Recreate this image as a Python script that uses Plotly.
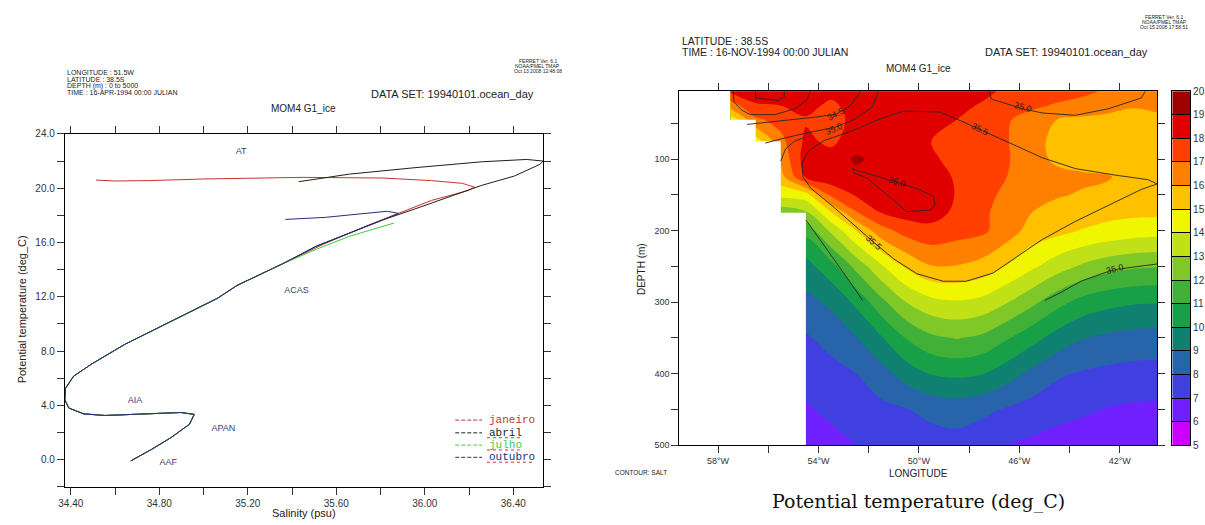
import plotly.graph_objects as go

W, H = 1205, 525

# ---------------- Left panel: T-S diagram data ----------------
common_S = [35.36, 35.152, 35.062, 34.943, 34.794, 34.645, 34.496, 34.413, 34.376, 34.373,
            34.391, 34.458, 34.555, 34.749, 34.898, 34.958, 34.936, 34.854, 34.764, 34.671]
common_T = [14.45, 12.84, 11.88, 10.9, 9.71, 8.5, 7.06, 6.15, 5.25, 4.41,
            3.8, 3.37, 3.25, 3.40, 3.47, 3.33, 2.6, 1.63, 0.74, -0.1]

jan_S = [34.514, 34.6, 34.75, 35.0, 35.45, 35.58, 35.81, 36.03, 36.17, 36.225, 36.196, 36.03, 35.88, 35.73, 35.54]
jan_T = [20.6, 20.53, 20.56, 20.68, 20.8, 20.8, 20.75, 20.56, 20.36, 20.07, 19.83, 19.1, 18.15, 17.18, 15.86]
abr_S = [35.43, 35.66, 35.96, 36.26, 36.46, 36.535, 36.52, 36.405, 36.255, 36.11, 35.96, 35.81, 35.66, 35.51]
abr_T = [20.48, 21.04, 21.52, 21.95, 22.12, 22.0, 21.76, 20.9, 20.2, 19.35, 18.5, 17.66, 16.7, 15.73]
jul_S = [35.86, 35.66, 35.51]
jul_T = [17.43, 16.46, 15.5]
out_S = [35.37, 35.55, 35.66, 35.83, 35.88, 35.81, 35.66, 35.51]
out_T = [17.7, 17.85, 18.03, 18.3, 18.15, 17.66, 16.7, 15.73]

series_names = ["janeiro", "abril", "julho", "outubro"]
series_colors = ["#c83232", "#1e1e1e", "#3ccc3c", "#2a2a7e"]

water_masses = ["AT", "ACAS", "AIA", "APAN", "AAF"]
wm_S = [35.17, 35.42, 34.69, 35.09, 34.84]
wm_T = [22.7, 12.45, 4.3, 2.3, -0.2]

# ---------------- Right panel: section data ----------------
lon = [-57.5 + i for i in range(18)]
dep = [5, 25, 45, 75, 100, 125, 150, 175, 200, 250, 300, 350, 400, 450, 500]
N = None
temp = [
    [18.2, 18.5, 18.5, 18.6, 18.3, 18.5, 18.6, 18.6, 18.6, 18.5, 18.3, 17.8, 17.6, 17.4, 17.2, 16.9, 16.6, 16.4],
    [16.5, 17.9, 18.0, 18.3, 17.8, 18.4, 18.5, 18.6, 18.5, 18.3, 17.9, 17.5, 17.2, 16.9, 16.7, 16.4, 16.1, 16.2],
    [14.3, 16.8, 17.4, 17.9, 17.6, 18.3, 18.5, 18.6, 18.3, 18.0, 17.6, 17.1, 16.6, 16.0, 15.8, 15.7, 15.6, 15.8],
    [N, 14.5, 16.7, 18.2, 17.8, 18.5, 18.6, 18.7, 18.0, 17.9, 17.5, 17.05, 16.5, 15.6, 15.4, 15.4, 15.4, 15.5],
    [N, N, 16.2, 18.5, 18.4, 19.15, 18.7, 18.8, 18.1, 17.8, 17.5, 17.1, 16.4, 15.8, 15.5, 15.4, 15.4, 15.45],
    [N, N, 15.6, 18.1, 18.6, 18.7, 18.8, 18.8, 18.4, 17.9, 17.4, 17.0, 16.5, 16.3, 16.2, 16.1, 15.6, 15.5],
    [N, N, 14.3, 14.6, 17.2, 18.1, 18.6, 18.7, 18.5, 17.95, 17.3, 16.8, 16.3, 16.1, 15.9, 15.7, 15.6, 15.5],
    [N, N, 12.3, 12.8, 14.9, 16.9, 18.0, 18.4, 18.4, 17.8, 17.2, 16.6, 16.0, 15.6, 15.5, 15.3, 15.2, 15.2],
    [N, N, N, 11.3, 13.2, 15.0, 16.6, 17.4, 17.7, 17.4, 17.2, 16.5, 15.6, 15.3, 14.95, 14.7, 14.5, 14.4],
    [N, N, N, 9.65, 10.6, 12.3, 13.85, 15.15, 15.95, 15.95, 15.65, 14.95, 14.2, 13.45, 12.85, 12.4, 12.15, 12.05],
    [N, N, N, 8.7, 9.2, 10.2, 11.7, 13.0, 13.7, 13.9, 13.7, 13.05, 12.25, 11.35, 10.65, 10.3, 10.1, 10.05],
    [N, N, N, 7.9, 8.3, 8.95, 9.9, 11.05, 11.8, 12.05, 11.8, 11.1, 10.35, 9.6, 9.05, 8.8, 8.65, 8.6],
    [N, N, N, 7.4, 7.7, 8.0, 8.6, 9.45, 10.05, 10.2, 10.05, 9.45, 8.75, 8.15, 7.9, 7.75, 7.65, 7.6],
    [N, N, N, 6.9, 7.2, 7.5, 7.75, 7.95, 8.3, 8.45, 8.25, 7.9, 7.6, 7.35, 7.15, 6.95, 6.85, 6.8],
    [N, N, N, 6.6, 6.7, 7.0, 7.2, 7.35, 7.5, 7.6, 7.3, 7.0, 6.8, 6.6, 6.5, 6.4, 6.3, 6.2],
]

band_colors = ["#cc00ff", "#7020ff", "#4040e0", "#2864aa", "#108070", "#18a048", "#40b038",
               "#80c828", "#c0e018", "#f0f500", "#ffc000", "#ff8000", "#ff4000", "#e00000", "#a00000"]
levels = list(range(5, 21))
band_mid = [v + 0.5 for v in levels[:-1]]

# salinity isolines (lon, depth)
s345_lon = [-56.84, -55.60, -54.28, -53.30, -52.77, -52.44, -52.35]
s345_dep = [51.5, 47.0, 41.9, 37.4, 26.4, 12.7, 5]
s350a_lon = [-56.12, -55.53, -54.41, -53.36, -52.57, -51.85, -51.61]
s350a_dep = [77.6, 72.1, 63.0, 55.6, 44.7, 27.3, 5]
s350b_lon = [-55.50, -55.31, -54.97, -54.54]
s350b_dep = [102.7, 85.8, 75.3, 69.3]
s355_lon = [-54.61, -54.65, -54.41, -53.76, -52.57, -51.52, -50.60, -49.16, -48.24, -47.58, -46.40, -45.08,
            -43.77, -42.19, -40.88, -40.50, -41.14, -42.45, -43.77, -45.08, -46.13, -47.05, -48.11, -49.03,
            -50.08, -51.00, -51.78, -52.57, -53.36, -54.28, -54.61]
s355_dep = [125.5, 105.0, 89.0, 73.9, 59.3, 43.3, 32.8, 34.2, 47.9, 58.4, 77.6, 98.1,
            113.2, 122.3, 128.7, 134.6, 142.4, 164.3, 187.1, 212.3, 237.4, 259.3, 270.7, 270.7,
            260.2, 239.6, 216.8, 192.6, 168.0, 141.5, 125.5]
s360_lon = [-52.64, -52.44, -51.65, -50.86, -50.08, -49.42, -49.35, -49.55, -50.47, -50.86, -51.52, -52.05, -52.57, -52.64]
s360_dep = [113.2, 116.4, 124.1, 132.3, 141.5, 151.5, 164.3, 171.2, 173.4, 162.0, 141.5, 126.9, 119.6, 113.2]
st1_lon = [-57.40, -57.36, -57.04, -56.71, -55.73, -54.94, -54.48, -54.31]
st1_dep = [5, 20.5, 31.9, 37.8, 37.8, 29.6, 18.2, 5]
st2_lon = [-56.52, -56.49, -55.60, -55.36, -55.36]
st2_dep = [5, 14.5, 18.2, 12.7, 5]
str_lon = [-47.19, -47.12, -45.87, -45.08, -43.77, -42.45, -41.14, -40.98]
str_dep = [5, 15.9, 29.6, 35.5, 38.7, 29.6, 14.5, 5]
sdl_lon = [-54.50, -53.89, -53.23, -52.70, -52.24]
sdl_dep = [184.9, 214.5, 246.5, 273.9, 297.6]
sdr_lon = [-44.98, -44.29, -43.51, -42.45, -42.06, -41.14, -40.50]
sdr_dep = [297.6, 285.3, 270.2, 257.0, 253.8, 249.2, 246.5]

sal_labels = ["34.5", "35.0", "35.5", "35.5", "36.0", "35.0", "35.0"]
sal_lab_lon = [-53.30, -53.39, -47.58, -51.78, -50.86, -45.87, -42.19]
sal_lab_dep = [37.5, 57.5, 58.4, 216.8, 132.3, 27.3, 253.3]
sal_lab_ang = [-28, -24, 25, 42, 18, 15, -14]

right_xrange = [-59.54, -40.5]
right_yrange = [500, 5]


def px(x):
    return x / W


def py(y):
    return 1 - y / H


fig = go.Figure()

# ---- left panel traces ----
uppers = [(jan_S, jan_T), (abr_S, abr_T), (jul_S, jul_T), (out_S, out_T)]
for (uS, uT), name, col in zip(uppers, series_names, series_colors):
    fig.add_trace(go.Scatter(x=uS + common_S, y=uT + common_T, mode="lines", name=name,
                             line=dict(color=col, width=1), xaxis="x", yaxis="y",
                             showlegend=False, hoverinfo="skip"))

fig.add_trace(go.Scatter(x=wm_S, y=wm_T, mode="text", text=water_masses, xaxis="x", yaxis="y",
                         textfont=dict(family="Liberation Sans", size=9, color="#3b3b7a"),
                         showlegend=False, hoverinfo="skip"))

# ---- right panel filled contours ----
ncol = len(band_colors)
cscale = []
for i, c in enumerate(band_colors):
    a = 0.0 if i == 0 else (i + 0.5) / 16
    b = 1.0 if i == ncol - 1 else (i + 1.5) / 16
    cscale.append([a, c])
    cscale.append([b, c])

fig.add_trace(go.Contour(
    x=lon, y=dep, z=temp, connectgaps=True,
    xaxis="x2", yaxis="y2", colorscale=cscale, zmin=5, zmax=20, zauto=False,
    contours=dict(start=levels[0], end=levels[-1], size=1, coloring="fill", showlines=False),
    line=dict(width=0), hoverinfo="skip", showscale=False,
))

# land mask: white polygon following the first valid grid column of each depth row
fv = [next(j for j, v in enumerate(r) if v is not None) for r in temp]
k0 = max(i for i in range(len(dep)) if fv[i] == 0)
mask_x, mask_y = [right_xrange[0], lon[fv[0]]], [dep[k0], dep[k0]]
for i in range(1, len(dep)):
    if fv[i] != fv[i - 1] and i - 1 != k0:
        mask_x += [lon[fv[i - 1]], lon[fv[i]]]
        mask_y += [dep[i - 1], dep[i - 1]]
    elif fv[i] != fv[i - 1]:
        mask_x += [lon[fv[i]]]
        mask_y += [dep[i - 1]]
mask_x += [lon[fv[-1]], right_xrange[0], right_xrange[0]]
mask_y += [dep[-1], dep[-1], dep[k0]]
fig.add_trace(go.Scatter(x=mask_x, y=mask_y, mode="lines", fill="toself", fillcolor="white",
                         line=dict(width=0, color="white"), xaxis="x2", yaxis="y2",
                         showlegend=False, hoverinfo="skip"))

sal_lines = [(s345_lon, s345_dep), (s350a_lon, s350a_dep), (s350b_lon, s350b_dep), (s355_lon, s355_dep),
             (s360_lon, s360_dep), (st1_lon, st1_dep), (st2_lon, st2_dep), (str_lon, str_dep),
             (sdl_lon, sdl_dep), (sdr_lon, sdr_dep)]
for lx, ly in sal_lines:
    fig.add_trace(go.Scatter(x=lx, y=ly, mode="lines", line=dict(color="#262626", width=0.9),
                             xaxis="x2", yaxis="y2", showlegend=False, hoverinfo="skip"))

# ---- colour key drawn as a one-column heatmap on its own axes ----
fig.add_trace(go.Heatmap(x=[0], y=band_mid, z=[[v] for v in band_mid], colorscale=cscale,
                         zmin=4.5, zmax=20.5, showscale=False, hoverinfo="skip",
                         xaxis="x3", yaxis="y3"))

annotations = []
for t, lx, ly, ang in zip(sal_labels, sal_lab_lon, sal_lab_dep, sal_lab_ang):
    annotations.append(dict(text=t, x=lx, y=ly, xref="x2", yref="y2", showarrow=False, textangle=ang,
                            font=dict(family="Liberation Sans", size=9, color="#222")))


def ann(text, x, y, size, color="#222", xanchor="center", family="Liberation Sans", angle=0, yanchor="middle"):
    annotations.append(dict(text=text, x=px(x), y=py(y), xref="paper", yref="paper", showarrow=False,
                            xanchor=xanchor, yanchor=yanchor, textangle=angle,
                            font=dict(family=family, size=size, color=color)))


# left headers
ann("LONGITUDE : 51.5W", 59, 69, 7, xanchor="left")
ann("LATITUDE : 38.5S", 59, 76, 7, xanchor="left")
ann("DEPTH (m) : 0 to 5000", 59, 82.5, 7, xanchor="left")
ann("TIME : 16-APR-1994 00:00 JULIAN", 59, 89.5, 7, xanchor="left")
ann("FERRET Ver. 6.1", 536, 57, 5)
ann("NOAA/PMEL TMAP", 536, 62, 5)
ann("Oct 13 2008 12:48:08", 536, 67, 5)
ann("DATA SET: 19940101.ocean_day", 366, 91, 11, xanchor="left")
ann("MOM4 G1_ice", 300, 106, 10)
ann("Potential temperature (deg_C)", 17, 311, 11, angle=-90)
ann("Salinity (psu)", 300, 518.5, 11)

# right headers
ann("LATITUDE : 38.5S", 680, 37, 10.5, xanchor="left")
ann("TIME : 16-NOV-1994 00:00 JULIAN", 680, 48.5, 10.5, xanchor="left")
ann("DATA SET: 19940101.ocean_day", 985, 48.5, 11, xanchor="left")
ann("MOM4 G1_ice", 920, 65, 10)
ann("FERRET Ver. 6.1", 1168, 12, 5)
ann("NOAA/PMEL TMAP", 1168, 17, 5)
ann("Oct 15 2008 17:58:51", 1168, 22.5, 5)
ann("DEPTH (m)", 641, 270, 10, angle=-90)
ann("LONGITUDE", 920, 479, 10)
ann("CONTOUR: SALT", 612, 478, 6.5, xanchor="left")
ann("Potential temperature (deg_C)", 920, 507, 19, family="DejaVu Serif", color="#111")

# legend (manual)
shapes = []
leg_y = [424, 437, 449.5, 462]
for name, col, yy in zip(series_names, series_colors, leg_y):
    shapes.append(dict(type="line", xref="paper", yref="paper", x0=px(453), x1=px(480), y0=py(yy), y1=py(yy),
                       line=dict(color=col, width=1, dash="4px,2px")))
    ann(name, 485, yy, 11, color=col, xanchor="left", family="Liberation Mono")
for x1, yy in [(519, 442), (518, 454.5), (532, 467)]:
    shapes.append(dict(type="line", xref="paper", yref="paper", x0=px(485), x1=px(x1), y0=py(yy), y1=py(yy),
                       line=dict(color="#e03030", width=1, dash="dot")))

tickfont = dict(family="Liberation Sans", size=10, color="#333")
smallfont = dict(family="Liberation Sans", size=9, color="#333")
left_xt = [round(34.4 + 0.2 * i, 1) for i in range(11)]
left_yt = list(range(-2, 25, 2))
right_xt = list(range(-58, -41, 2))
right_yt = list(range(50, 501, 50))

axis_common = dict(showline=True, linecolor="black", linewidth=1, mirror="ticks", ticks="outside",
                   ticklen=7, tickcolor="#333", showgrid=False, zeroline=False)

fig.update_layout(
    width=W, height=H, margin=dict(l=0, r=0, t=0, b=0), paper_bgcolor="white", plot_bgcolor="white",
    showlegend=False,
    xaxis=dict(domain=[px(59.3), px(541.7)], range=[34.373, 36.535], anchor="y",
               tickvals=left_xt, ticktext=["%.2f" % v if i % 2 == 0 else "" for i, v in enumerate(left_xt)],
               tickfont=tickfont, **axis_common),
    yaxis=dict(domain=[py(492.3), py(131.7)], range=[-2.02, 24.0], anchor="x",
               tickvals=left_yt, ticktext=["%.1f" % v if v % 4 == 0 else "" for v in left_yt],
               tickfont=tickfont, **axis_common),
    xaxis2=dict(domain=[px(679), px(1161)], range=right_xrange, anchor="y2",
                tickvals=right_xt,
                ticktext=["%d°W" % (-v) if i % 2 == 0 else "" for i, v in enumerate(right_xt)],
                tickfont=smallfont, **axis_common),
    yaxis2=dict(domain=[py(449.7), py(88)], range=right_yrange, anchor="x2",
                tickvals=right_yt, ticktext=["%d" % v if v % 100 == 0 else "" for v in right_yt],
                tickfont=smallfont, **axis_common),
    xaxis3=dict(domain=[px(1176), px(1194)], range=[-0.5, 0.5], anchor="y3", showticklabels=False,
                ticks="", showline=True, mirror=True, linecolor="black", linewidth=1,
                showgrid=False, zeroline=False),
    yaxis3=dict(domain=[py(449.7), py(88)], range=[5, 20], anchor="x3", side="right",
                tickvals=levels, ticks="inside", ticklen=18, tickcolor="black", tickwidth=1,
                showline=True, mirror=True, linecolor="black", linewidth=1, showgrid=False,
                zeroline=False, tickfont=tickfont),
    annotations=annotations,
    shapes=shapes,
)

fig.write_html("out.html")
